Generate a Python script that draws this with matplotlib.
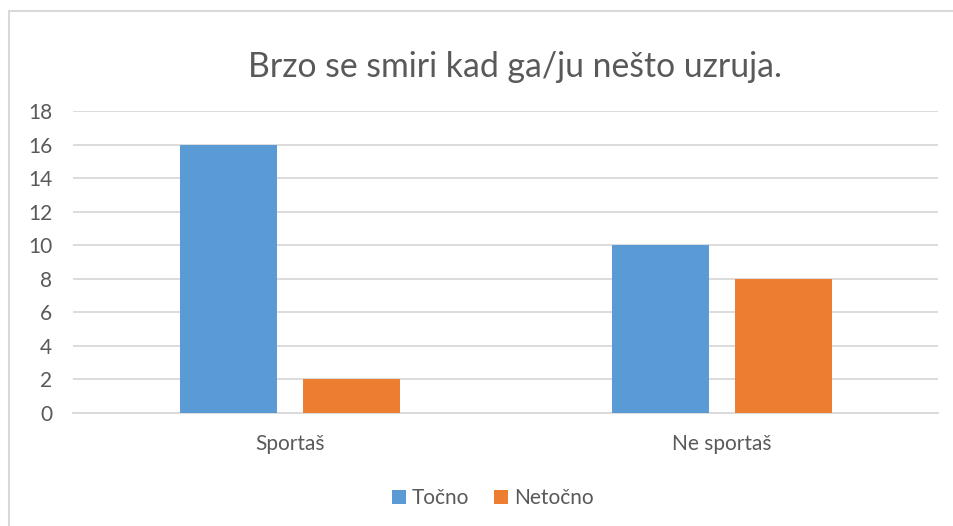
"""Grouped bar chart: Brzo se smiri kad ga/ju nešto uzruja."""

import matplotlib

matplotlib.use("Agg")
import matplotlib.pyplot as plt
import numpy as np
from matplotlib.patches import Rectangle

categories = ["Sportaš", "Ne sportaš"]
series_names = ["Točno", "Netočno"]
tocno = [16, 10]
netocno = [2, 8]
y_ticks = [0, 2, 4, 6, 8, 10, 12, 14, 16, 18]

COLORS = ["#5B9BD5", "#ED7D31"]
TEXT = "#595959"
GRID = "#d9d9d9"
W, H = 954, 526

plt.rcParams["font.family"] = ["Lato", "DejaVu Sans"]

fig = plt.figure(figsize=(W / 100, H / 100), dpi=100)

# chart border (cut off at right / bottom as in the screenshot)
fig.patches.append(Rectangle((9 / W, -0.1), 1.2, 1 - 11 / H + 0.1, transform=fig.transFigure,
                             fill=False, edgecolor=GRID, linewidth=1.5))

left, right, top, bottom = 73, 938, 111, 413
ax = fig.add_axes([left / W, 1 - bottom / H, (right - left) / W, (bottom - top) / H])

x = np.arange(len(categories))
bar_w = 0.225
offset = 0.142
ax.bar(x - offset, tocno, bar_w, color=COLORS[0], label=series_names[0], zorder=3)
ax.bar(x + offset, netocno, bar_w, color=COLORS[1], label=series_names[1], zorder=3)

ax.set_xlim(-0.502, 1.5)
ax.set_ylim(0, 18)
ax.set_yticks(y_ticks)
ax.set_xticks(x)
ax.set_xticklabels(categories)
ax.yaxis.grid(True, color=GRID, linewidth=1.3, zorder=0)
ax.tick_params(axis="both", length=0, labelsize=15, labelcolor=TEXT)
ax.tick_params(axis="x", pad=15)
ax.tick_params(axis="y", pad=15)
for side in ["top", "right", "left"]:
    ax.spines[side].set_visible(False)
ax.spines["bottom"].set_color(GRID)
ax.spines["bottom"].set_linewidth(1.3)

fig.text(515 / W, 1 - 67 / H, "Brzo se smiri kad ga/ju nešto uzruja.", ha="center", va="center",
         fontsize=24.3, color=TEXT)

fig.legend(loc="center", bbox_to_anchor=(493 / W, 1 - 498 / H), ncol=2, frameon=False,
           fontsize=15, labelcolor=TEXT, handlelength=0.65, handleheight=0.65,
           handletextpad=0.3, columnspacing=1.2)

fig.savefig("out.png", dpi=100)
